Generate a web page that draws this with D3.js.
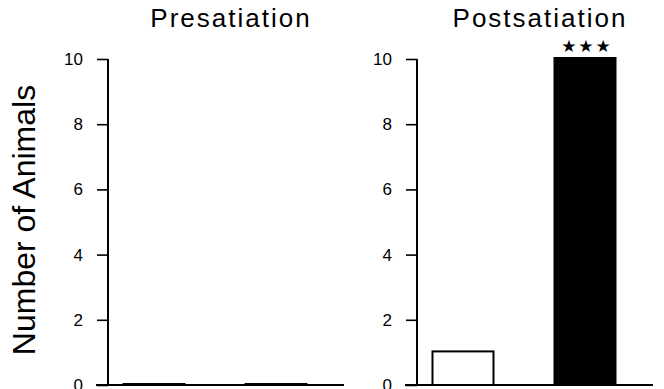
<!DOCTYPE html>
<html>
<head>
<meta charset="utf-8">
<script src="https://cdn.jsdelivr.net/npm/d3@7"></script>
<style>
  body { margin: 0; background: #fff; }
  svg { display: block; font-family: "Liberation Sans", Arial, sans-serif; }
</style>
</head>
<body>
<div id="chart"></div>
<script>
// data
var panels = ["Presatiation", "Postsatiation"];
var conditions = ["open", "filled"];
var presatiation = [0, 0];
var postsatiation = [1, 10];
var starsPre = ["", ""];
var starsPost = ["", "★★★"];
var yTicks = [0, 2, 4, 6, 8, 10];

var width = 664, height = 389;

var svg = d3.select("#chart").append("svg")
    .attr("width", width)
    .attr("height", height);

var y = d3.scaleLinear().domain([0, 10]).range([385, 59]);

var axisX = [108, 417];
var panelValues = [presatiation, postsatiation];
var panelStars = [starsPre, starsPost];

panels.forEach(function(name, i) {
  var ax = axisX[i];
  var g = svg.append("g");

  var x = d3.scaleBand()
      .domain(conditions)
      .range([ax, ax + 214])
      .paddingInner(0.5)
      .paddingOuter(0.127);

  // title
  g.append("text")
      .attr("x", ax + 123)
      .attr("y", 27)
      .attr("text-anchor", "middle")
      .style("font-size", "26px")
      .style("letter-spacing", "2px")
      .text(name);

  // y axis
  var yAxis = d3.axisLeft(y).tickValues(yTicks).tickSize(11).tickPadding(14);
  var ga = g.append("g")
      .attr("transform", "translate(" + ax + ",0)")
      .call(yAxis);
  ga.select(".domain").remove();
  ga.selectAll("line").attr("stroke", "#000").attr("stroke-width", 1.6);
  ga.selectAll("text").style("font-size", "17px").attr("fill", "#000");

  g.append("line")
      .attr("x1", ax).attr("x2", ax)
      .attr("y1", y(10)).attr("y2", y(0))
      .attr("stroke", "#000").attr("stroke-width", 2);

  // baseline
  g.append("line")
      .attr("x1", ax - 12).attr("x2", ax + 236)
      .attr("y1", y(0)).attr("y2", y(0))
      .attr("stroke", "#000").attr("stroke-width", 2);

  // bars
  g.selectAll("rect.bar")
    .data(panelValues[i])
    .enter().append("rect")
      .attr("class", "bar")
      .attr("x", function(d, j) { return x(conditions[j]); })
      .attr("width", x.bandwidth())
      .attr("y", function(d) { return y(d) - 1; })
      .attr("height", function(d) { return y(0) - y(d) + 1; })
      .attr("fill", function(d, j) { return j == 0 ? "#fff" : "#000"; })
      .attr("stroke", "#000")
      .attr("stroke-width", 2);

  // significance
  g.selectAll("text.star")
    .data(panelValues[i])
    .enter().append("text")
      .attr("class", "star")
      .attr("x", function(d, j) { return x(conditions[j]) + x.bandwidth() / 2 + 2; })
      .attr("y", function(d) { return y(d) - 7; })
      .attr("text-anchor", "middle")
      .style("font-family", "DejaVu Sans")
      .style("font-size", "17px")
      .style("letter-spacing", "2px")
      .text(function(d, j) { return panelStars[i][j]; });
});

// y label
svg.append("text")
    .attr("transform", "translate(35,220) rotate(-90)")
    .attr("text-anchor", "middle")
    .style("font-size", "32px")
    .text("Number of Animals");
</script>
</body>
</html>
